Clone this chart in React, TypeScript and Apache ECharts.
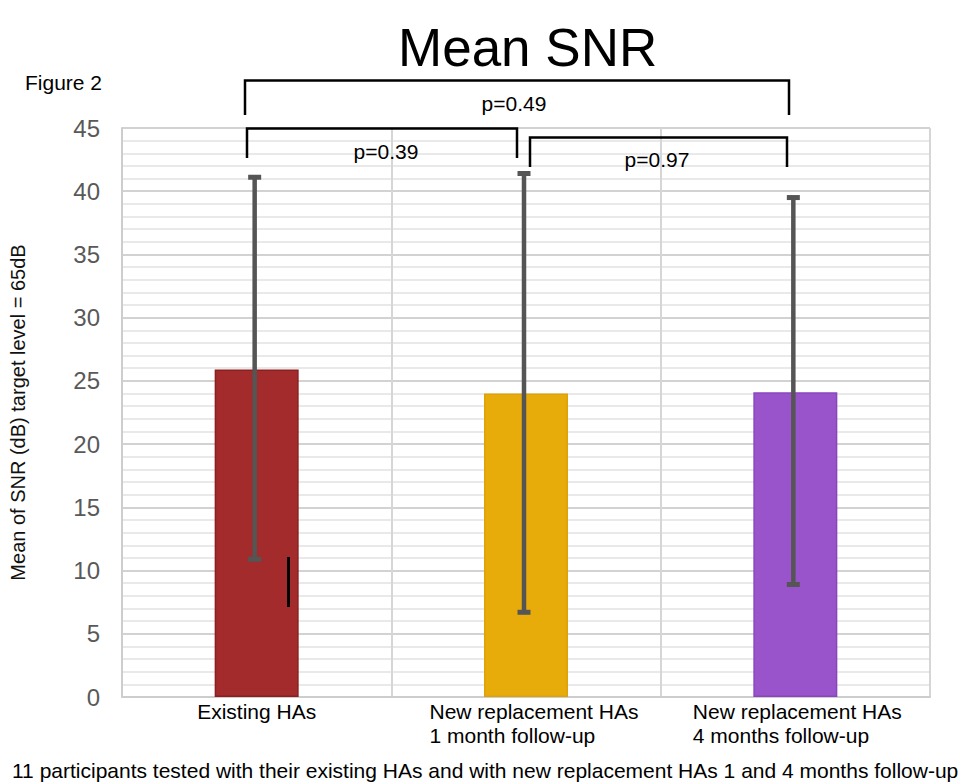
import React, { useEffect, useRef } from "react";
import * as echarts from "echarts";

const FONT = '"Liberation Sans", Arial, sans-serif';

const categories = [
  "Existing HAs",
  "New replacement HAs\n1 month follow-up",
  "New replacement HAs\n4 months follow-up",
];
const meanSNR = [25.9, 24.0, 24.1];
const errLow = [10.9, 6.7, 8.9];
const errHigh = [41.1, 41.4, 39.5];
const barColors = ["#A32B2B", "#E8AC0A", "#9954CB"];
const barBorders = ["#8A1F1F", "#DDA209", "#8A45BE"];
const yMin = 0;
const yMax = 45;
const yInterval = 5;

const titleText = "Mean SNR";
const yAxisTitle = "Mean of SNR (dB) target level = 65dB";
const figureLabel = "Figure 2";
const pValues = ["p=0.49", "p=0.39", "p=0.97"];
const caption =
  "11 participants tested with their existing HAs and with new replacement HAs 1 and 4 months follow-up";

export default function App() {
  const ref = useRef<HTMLDivElement>(null);

  useEffect(() => {
    if (!ref.current) return;
    const chart = echarts.init(ref.current, undefined, { renderer: "svg" });

    const bracket = (pts: number[][]) => ({
      type: "polyline",
      shape: { points: pts },
      style: { stroke: "#000", lineWidth: 2.5, fill: null },
      z: 10,
    });
    const ptext = (t: string, x: number, y: number) => ({
      type: "text",
      x,
      y,
      style: {
        text: t,
        fontSize: 21,
        fontFamily: FONT,
        fill: "#000",
        align: "center",
        verticalAlign: "middle",
      },
      z: 10,
    });

    const option: any = {
      animation: false,
      backgroundColor: "#fff",
      title: {
        text: titleText,
        left: 398,
        top: 21,
        padding: 0,
        textStyle: { fontSize: 53, fontWeight: "normal", color: "#000", fontFamily: FONT },
      },
      grid: { left: 120, right: 50, top: 128, bottom: 86, containLabel: false },
      xAxis: {
        type: "category",
        data: categories,
        axisTick: { show: false },
        axisLine: { show: true, lineStyle: { color: "#CDCDCD", width: 2 } },
        splitLine: { show: true, interval: 0, lineStyle: { color: "#D6D6D6", width: 2 } },
        axisLabel: {
          interval: 0,
          margin: 2,
          color: "#000",
          fontFamily: FONT,
          fontSize: 21,
          formatter: (value: string, idx: number) => {
            if (idx === 0) return `{a|${value}}`;
            const key = idx === 1 ? "b" : "c";
            return value
              .split("\n")
              .map((l) => `{${key}|${l}}`)
              .join("\n");
          },
          rich: {
            a: { fontSize: 21, lineHeight: 24, color: "#000", fontFamily: FONT },
            b: {
              fontSize: 21,
              lineHeight: 24,
              color: "#000",
              fontFamily: FONT,
              width: 213,
              align: "left",
              padding: [0, 0, 0, 20],
            },
            c: {
              fontSize: 21,
              lineHeight: 24,
              color: "#000",
              fontFamily: FONT,
              width: 213,
              align: "left",
              padding: [0, 0, 0, 8],
            },
          },
        },
      },
      yAxis: {
        type: "value",
        min: yMin,
        max: yMax,
        interval: yInterval,
        name: yAxisTitle,
        nameLocation: "middle",
        nameRotate: 90,
        nameGap: 94,
        nameTextStyle: { fontSize: 20, color: "#111", fontFamily: FONT },
        axisLine: { show: true, lineStyle: { color: "#CDCDCD", width: 2 } },
        axisTick: { show: false },
        axisLabel: { fontSize: 24, color: "#595959", fontFamily: FONT, margin: 22 },
        splitLine: { show: true, lineStyle: { color: "#D2D2D2", width: 2 } },
        minorTick: { show: false, splitNumber: 5 },
        minorSplitLine: { show: true, lineStyle: { color: "#E9E9E9", width: 2 } },
      },
      series: [
        {
          type: "bar",
          barWidth: 84,
          data: meanSNR.map((v, i) => ({
            value: v,
            itemStyle: { color: barColors[i], borderColor: barBorders[i], borderWidth: 1.5 },
          })),
          z: 2,
        },
        {
          type: "custom",
          z: 5,
          encode: { x: 0, y: [1, 2] },
          data: categories.map((_, i) => [i, errLow[i], errHigh[i]]),
          renderItem: (params: any, api: any) => {
            const x = api.value(0);
            const pLo = api.coord([x, api.value(1)]);
            const pHi = api.coord([x, api.value(2)]);
            const capW = 13;
            const capH = 5;
            const col = "#555555";
            const dx = -2;
            return {
              type: "group",
              children: [
                {
                  type: "line",
                  shape: { x1: pHi[0] + dx, y1: pHi[1], x2: pLo[0] + dx, y2: pLo[1] },
                  style: { stroke: col, lineWidth: 4.5 },
                },
                {
                  type: "rect",
                  shape: { x: pHi[0] + dx - capW / 2, y: pHi[1] - capH / 2, width: capW, height: capH },
                  style: { fill: col },
                },
                {
                  type: "rect",
                  shape: { x: pLo[0] + dx - capW / 2, y: pLo[1] - capH / 2, width: capW, height: capH },
                  style: { fill: col },
                },
              ],
            };
          },
        },
      ],
      graphic: [
        {
          type: "text",
          x: 25,
          y: 82,
          style: {
            text: figureLabel,
            fontSize: 21,
            fontFamily: FONT,
            fill: "#000",
            verticalAlign: "middle",
          },
        },
        bracket([
          [245, 115],
          [245, 80.5],
          [789, 80.5],
          [789, 115],
        ]),
        bracket([
          [247, 158],
          [247, 128.5],
          [517, 128.5],
          [517, 158],
        ]),
        bracket([
          [530, 167],
          [530, 137.5],
          [787, 137.5],
          [787, 167],
        ]),
        ptext(pValues[0], 514, 103),
        ptext(pValues[1], 386, 151),
        ptext(pValues[2], 657, 159),
        {
          type: "line",
          shape: { x1: 288.5, y1: 557, x2: 288.5, y2: 607 },
          style: { stroke: "#000", lineWidth: 3 },
          z: 10,
        },
        {
          type: "text",
          x: 12,
          y: 770,
          style: {
            text: caption,
            fontSize: 21,
            fontFamily: FONT,
            fill: "#000",
            verticalAlign: "middle",
          },
        },
      ],
    };

    chart.setOption(option);
    return () => chart.dispose();
  }, []);

  return (
    <div
      ref={ref}
      style={{ position: "absolute", left: 0, top: 0, width: 980, height: 783 }}
    />
  );
}
